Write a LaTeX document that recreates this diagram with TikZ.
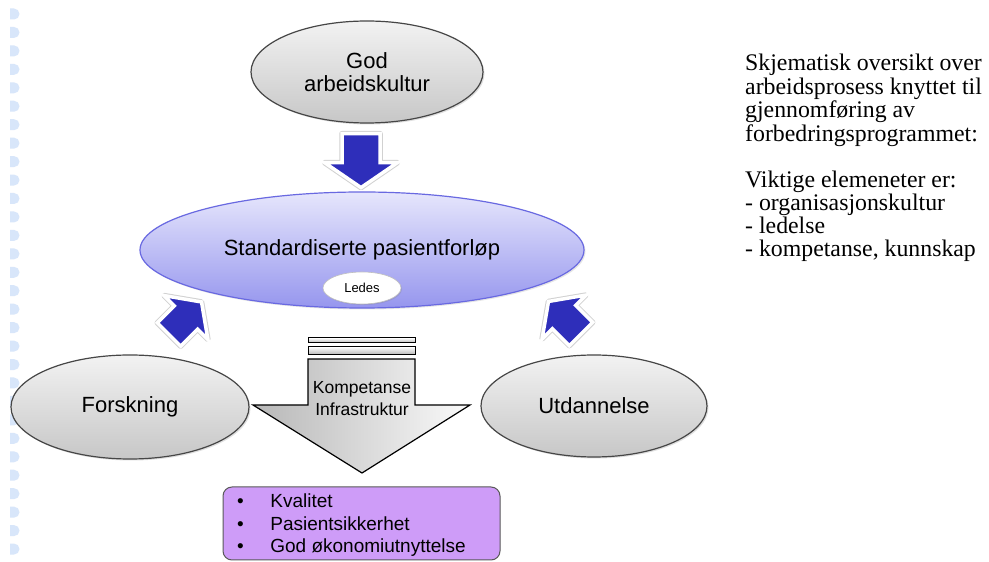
\documentclass[tikz,border=0pt]{standalone}
\usepackage{fontspec}
\setmainfont{Liberation Sans}
\newfontfamily\notefont{Liberation Serif}
\usetikzlibrary{shapes.geometric,shadows,calc}

\definecolor{dotblue}{RGB}{216,230,250}
\definecolor{arrowblue}{RGB}{46,46,186}
\definecolor{bubbleline}{RGB}{70,70,70}
\definecolor{mainline}{RGB}{105,105,225}
\definecolor{maintop}{RGB}{230,230,252}
\definecolor{mainbottom}{RGB}{150,150,238}
\definecolor{boxfill}{RGB}{206,156,248}

\tikzset{
  bubble/.style={ellipse, draw=bubbleline, line width=1.2pt,
    top color=black!5, bottom color=black!22,
    drop shadow={opacity=0.25, shadow xshift=1.5pt, shadow yshift=-1.5pt},
    inner sep=0pt, align=center, font=\fontsize{22}{23}\selectfont},
  mainbubble/.style={ellipse, draw=mainline, line width=1.2pt,
    top color=maintop, bottom color=mainbottom,
    drop shadow={opacity=0.2, shadow xshift=1.5pt, shadow yshift=-1.5pt},
    inner sep=0pt, font=\fontsize{22}{24}\selectfont},
  smallbubble/.style={ellipse, draw=black!25, line width=0.6pt, fill=white,
    drop shadow={opacity=0.25, shadow xshift=1pt, shadow yshift=-1pt},
    inner sep=0pt, font=\fontsize{13}{14}\selectfont},
  resultbox/.style={rectangle, rounded corners=9pt, draw=black!65, line width=1pt,
    fill=boxfill, inner sep=0pt},
  stripebar/.style={draw=black, line width=1pt, top color=white, bottom color=black!30},
  pics/bluearrow/.style n args={4}{code={
    \path[draw=black!18, line width=5.5pt, line join=round]
      (0,-#1) -- (#3,-#1) -- (#3,-#2) -- (#4,0) -- (#3,#2) -- (#3,#1) -- (0,#1) -- cycle;
    \path[draw=white, line width=3.5pt, fill=arrowblue]
      (0,-#1) -- (#3,-#1) -- (#3,-#2) -- (#4,0) -- (#3,#2) -- (#3,#1) -- (0,#1) -- cycle;
  }},
}

\begin{document}
\begin{tikzpicture}[x=1pt, y=1pt]
\useasboundingbox (0,0) rectangle (989,562);
\fill[white] (0,0) rectangle (989,562);

% column of half-round marks down the left margin
\foreach \k in {0,...,29}{
  \pgfmathsetmacro\yy{562-14-18.45*\k}
  \fill[dotblue] (10,\yy+5.5) -- (14,\yy+5.5)
    arc[start angle=90, end angle=-90, radius=5.5] -- (10,\yy-5.5) -- cycle;
}

% ellipses
\node[bubble, minimum width=232, minimum height=102] (god) at (367,490) {God\\arbeidskultur};
\node[mainbubble, minimum width=444, minimum height=116] (main) at (362,312) {Standardiserte pasientforløp};
\node[smallbubble, minimum width=78, minimum height=32] (ledes) at (362,274) {Ledes};
\node[bubble, minimum width=238, minimum height=104] (forsk) at (130,155) {Forskning};
\node[bubble, minimum width=226, minimum height=102] (utd) at (594,156) {Utdannelse};

% block arrows feeding the central process
\coordinate (godtail) at ($(god.south)+(-6,-10)$);
\coordinate (forsktail) at (169,227.5);
\coordinate (utdtail) at (581,228);
\pic[rotate=-90] (godarrow) at (godtail) {bluearrow={19}{36.5}{29}{54}};
\pic[rotate=45] (forskarrow) at (forsktail) {bluearrow={16.5}{31}{24}{46}};
\pic[rotate=135] (utdarrow) at (utdtail) {bluearrow={16.5}{31}{24}{46}};

% large grey down arrow with stacked bars
\draw[stripebar] (308,219) rectangle (415,224);
\draw[stripebar] (308,207) rectangle (415,215);
\draw[line width=1.2pt, line join=miter, left color=black!28, right color=black!2]
  (308,203) -- (308,157) -- (253,157) -- (362,89) -- (470,157) -- (415,157) -- (415,203) -- cycle;
\node[font=\fontsize{17.5}{22}\selectfont, align=center, inner sep=0pt] (komp) at (362,163)
  {Kompetanse\\Infrastruktur};

% outcome box
\node[resultbox, minimum width=277, minimum height=73] (res) at (361.5,38.5) {};
\node[anchor=base west, inner sep=0pt, font=\fontsize{19}{22.5}\selectfont] (items) at (237,54)
  {\begin{tabular}[t]{@{}l@{\hspace{26.5pt}}l@{}}
    • & Kvalitet\\
    • & Pasientsikkerhet\\
    • & God økonomiutnyttelse
  \end{tabular}};

% explanatory note
\node[anchor=base west, inner sep=0pt, font=\notefont\fontsize{23.8}{22.5}\selectfont] (note) at (745,491)
  {\begin{tabular}[t]{@{}l@{}}
    Skjematisk oversikt over\\
    arbeidsprosess knyttet til\\
    gjennomføring av\\
    forbedringsprogrammet:\\
    \\
    Viktige elemeneter er:\\
    - organisasjonskultur\\
    - ledelse\\
    - kompetanse, kunnskap
  \end{tabular}};
\end{tikzpicture}
\end{document}
